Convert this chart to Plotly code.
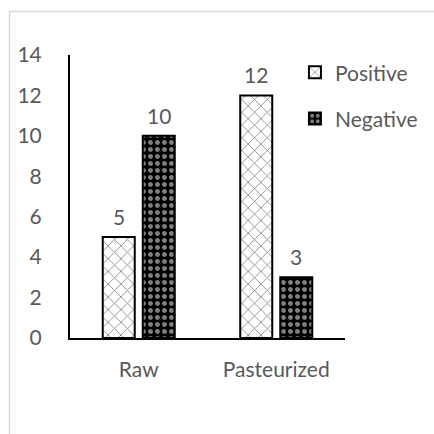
import plotly.graph_objects as go

# Sample counts by milk type
categories = ["Raw", "Pasteurized"]
positive = [5, 12]
negative = [10, 3]
y_ticks = [0, 2, 4, 6, 8, 10, 12, 14]

FONT = "Lato"
GREY = "#595959"
FS = 21

fig = go.Figure()
fig.add_trace(go.Bar(
    name="Positive", x=categories, y=positive,
    legendgroup="pos",
    marker=dict(
        color="white",
        line=dict(color="black", width=2),
        pattern=dict(shape="x", fgcolor="#222222", bgcolor="white",
                     size=9, solidity=0.2),
    ),
))
fig.add_trace(go.Bar(
    name="Negative", x=categories, y=negative,
    legendgroup="neg",
    marker=dict(
        color="black",
        line=dict(color="black", width=2),
        pattern=dict(shape=".", fgcolor="white", bgcolor="black",
                     size=7, solidity=0.4),
    ),
))

# Value labels above each bar
for vals, shift in ((positive, -20), (negative, 20)):
    for cat, v in zip(categories, vals):
        fig.add_annotation(
            x=cat, y=v, text=str(v), showarrow=False,
            xref="x", yref="y", yanchor="bottom", xshift=shift, yshift=6,
            font=dict(family=FONT, size=FS, color=GREY),
        )

# Light chart-area frame
fig.add_shape(type="rect", xref="paper", yref="paper",
              x0=-0.22, x1=1.6, y0=-0.6, y1=1.154,
              line=dict(color="#d9d9d9", width=1.5), fillcolor="rgba(0,0,0,0)",
              layer="below")

fig.update_layout(
    width=434, height=434,
    margin=dict(l=70, r=88, t=55, b=96),
    paper_bgcolor="white", plot_bgcolor="white",
    barmode="group", bargap=0.418, bargroupgap=0.2,
    font=dict(family=FONT, size=FS, color=GREY),
    showlegend=True,
    legend=dict(x=0.815, y=1.01, xanchor="left", yanchor="top",
                tracegroupgap=16, bgcolor="rgba(0,0,0,0)",
                itemwidth=30,
                font=dict(family=FONT, size=FS, color=GREY)),
    xaxis=dict(showline=True, linecolor="black", linewidth=2,
               ticks="", ticklabelstandoff=12, showgrid=False,
               tickfont=dict(family=FONT, size=FS, color=GREY)),
    yaxis=dict(range=[0, 14], tickvals=y_ticks, showline=True,
               linecolor="black", linewidth=2, ticks="",
               ticklabelstandoff=22, showgrid=False, zeroline=False,
               tickfont=dict(family=FONT, size=FS, color=GREY)),
)

fig.write_html("out.html")
